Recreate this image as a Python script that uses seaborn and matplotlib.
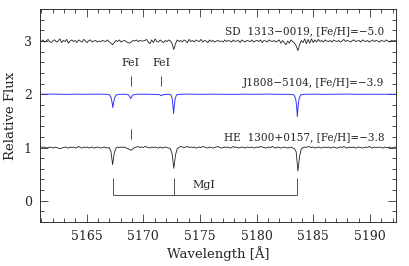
import numpy as np
import pandas as pd
import seaborn as sns
import matplotlib.pyplot as plt
from matplotlib.ticker import MultipleLocator

# wavelength grid of the two black spectra (0.15 A steps)
wave = np.linspace(5160.85, 5192.35, 211)

# SD 1313-0019, [Fe/H]=-5.0 (offset +2)
sd_flux = [
    3.01, 2.99, 3.02, 2.98, 3.00, 3.03, 2.99, 2.97, 3.01, 3.02,
    2.98, 3.00, 3.04, 2.97, 3.01, 2.99, 3.03, 2.96, 3.00, 3.02,
    2.99, 3.01, 2.97, 3.02, 3.00, 2.98, 3.03, 3.00, 2.97, 3.01,
    3.02, 2.98, 3.00, 3.01, 2.98, 3.00, 2.99, 3.01, 3.00, 2.99,
    3.02, 2.98, 2.96, 2.93, 2.97, 3.01, 2.99, 3.02, 2.98, 3.00,
    3.01, 2.99, 2.97, 2.96, 2.98, 3.01, 3.00, 3.02, 2.99, 3.01,
    3.00, 3.00, 3.01, 3.03, 2.98, 2.95, 3.02, 2.97, 3.04, 2.99,
    2.98, 3.02, 2.99, 2.97, 3.01, 2.99, 3.02, 3.00, 2.95, 2.84,
    2.95, 3.02, 2.99, 3.01, 2.98, 3.02, 3.00, 2.97, 3.03, 2.99,
    3.01, 2.98, 3.02, 3.00, 2.99, 3.03, 2.98, 3.01, 3.00, 2.97,
    3.02, 2.99, 3.01, 2.98, 3.00, 3.01, 2.99, 3.00, 2.98, 3.02,
    2.99, 3.01, 3.00, 2.98, 3.02, 2.99, 3.00, 3.01, 2.97, 3.02,
    3.00, 2.98, 3.01, 3.00, 2.99, 3.02, 2.98, 3.00, 3.01, 2.99,
    3.02, 2.97, 3.01, 3.00, 2.98, 3.02, 3.00, 2.99, 3.01, 2.98,
    3.00, 3.02, 2.96, 3.01, 2.97, 2.93, 3.00, 2.96, 3.02, 2.99,
    2.96, 2.91, 2.82, 2.93, 3.01, 2.97, 3.04, 2.95, 3.03, 2.96,
    3.04, 2.97, 3.02, 2.98, 3.03, 2.99, 3.01, 2.98, 3.02, 3.00,
    2.99, 3.01, 2.98, 3.02, 3.00, 2.99, 3.01, 2.98, 3.00, 3.03,
    2.99, 3.01, 3.00, 2.98, 3.01, 3.02, 2.99, 3.00, 3.01, 2.98,
    3.02, 3.00, 2.99, 3.01, 2.98, 3.00, 3.02, 2.99, 3.01, 3.00,
    2.98, 3.01, 3.00, 2.99, 3.02, 3.00, 2.98, 3.01, 3.00, 3.01, 2.99,
]

# HE 1300+0157, [Fe/H]=-3.8
he_flux = [
    1.02, 1.01, 1.00, 1.01, 0.99, 1.00, 1.01, 1.00, 0.99, 1.01,
    1.00, 0.99, 0.98, 0.99, 1.00, 1.01, 1.00, 0.99, 1.01, 1.00,
    1.01, 0.99, 1.00, 1.02, 1.00, 0.99, 1.01, 1.00, 1.01, 0.99,
    1.00, 1.01, 0.99, 1.00, 1.01, 1.00, 0.99, 1.00, 1.01, 1.00,
    0.99, 1.00, 0.93, 0.68, 0.90, 0.99, 1.01, 1.00, 1.01, 1.00,
    1.01, 0.99, 0.98, 0.96, 0.95, 0.98, 1.00, 1.01, 1.02, 1.00,
    1.01, 1.00, 1.02, 1.01, 1.00, 0.99, 1.01, 1.00, 1.01, 1.00,
    0.99, 1.01, 0.99, 1.00, 1.01, 1.00, 0.99, 0.98, 0.88, 0.61,
    0.86, 0.98, 1.00, 1.02, 1.01, 1.00, 1.01, 1.02, 1.00, 1.01,
    1.00, 1.01, 0.99, 1.00, 1.01, 1.00, 1.02, 1.01, 1.00, 0.99,
    1.01, 1.00, 0.99, 1.00, 1.01, 1.02, 1.00, 0.99, 1.00, 1.01,
    1.00, 1.01, 0.99, 1.00, 1.02, 1.00, 1.01, 0.99, 1.00, 1.01,
    1.00, 0.99, 1.01, 1.00, 1.00, 1.01, 0.99, 1.00, 1.01, 1.00,
    1.02, 1.01, 1.00, 0.99, 1.00, 1.01, 1.00, 1.02, 1.00, 0.99,
    1.01, 1.00, 0.99, 1.00, 1.01, 1.00, 0.99, 1.00, 1.01, 0.99,
    0.98, 0.92, 0.56, 0.84, 0.97, 1.00, 1.01, 1.00, 1.02, 1.01,
    1.00, 1.01, 0.99, 1.00, 1.01, 1.00, 0.99, 1.01, 1.00, 1.00,
    1.01, 0.99, 1.00, 1.01, 1.00, 0.99, 1.00, 1.01, 1.00, 1.02,
    1.00, 0.99, 1.01, 1.00, 1.00, 1.01, 0.99, 1.00, 1.01, 1.00,
    0.99, 1.00, 1.01, 1.00, 1.02, 1.00, 0.99, 1.01, 1.00, 1.00,
    1.01, 1.00, 0.99, 1.01, 1.00, 1.00, 1.01, 0.99, 1.00, 1.01, 1.00,
]

# J1808-5104, [Fe/H]=-3.9 (offset +1), high S/N so sampled sparsely in continuum
j_wave = [
    5160.9, 5162.0, 5163.0, 5164.0, 5165.0, 5166.0, 5166.8, 5167.0, 5167.15,
    5167.25, 5167.32, 5167.4, 5167.5, 5167.65, 5167.9, 5168.4, 5168.7, 5168.82,
    5168.9, 5168.98, 5169.1, 5169.4, 5170.0, 5170.8, 5171.4, 5171.6, 5171.8,
    5172.2, 5172.45, 5172.55, 5172.62, 5172.68, 5172.75, 5172.83, 5172.95,
    5173.3, 5174.0, 5175.0, 5176.0, 5177.0, 5178.0, 5179.0, 5180.0, 5181.0,
    5182.0, 5182.8, 5183.3, 5183.45, 5183.54, 5183.6, 5183.67, 5183.76,
    5183.9, 5184.3, 5185.0, 5186.0, 5187.0, 5188.0, 5189.0, 5190.0, 5191.0,
    5192.3,
]
j_flux = [
    2.000, 2.003, 1.998, 2.002, 2.000, 2.003, 1.998, 1.990, 1.950,
    1.850, 1.750, 1.860, 1.950, 1.990, 2.000, 2.000, 1.990, 1.950,
    1.920, 1.950, 1.990, 2.000, 2.002, 1.998, 1.995, 1.975, 1.995,
    1.998, 1.990, 1.930, 1.800, 1.640, 1.800, 1.930, 1.990,
    2.000, 2.003, 1.999, 2.002, 2.000, 1.998, 2.002, 2.000, 2.003,
    1.999, 2.000, 1.990, 1.920, 1.780, 1.580, 1.780, 1.920,
    1.990, 2.000, 2.002, 1.999, 2.001, 2.003, 1.999, 2.001, 2.000,
    2.000,
]

fe_lines = [5168.9, 5171.6]
mg_lines = [5167.32, 5172.68, 5183.60]

sns.set_style('ticks')
plt.rcParams['font.family'] = ['DejaVu Serif']

fig = plt.figure(figsize=(4.09, 2.66), dpi=100)
ax = fig.add_axes([0.098, 0.165, 0.870, 0.801])

black = pd.DataFrame({'wave': np.concatenate([wave, wave]),
                      'flux': sd_flux + he_flux,
                      'star': ['SD'] * len(wave) + ['HE'] * len(wave)})
sns.lineplot(data=black, x='wave', y='flux', units='star', estimator=None,
             color='#222222', lw=0.6, ax=ax, sort=False)
sns.lineplot(x=j_wave, y=j_flux, color='#3333ff', lw=0.7, ax=ax, sort=False)

# line identifications
ax.vlines(fe_lines, 2.16, 2.34, color='#333333', lw=0.6)
ax.vlines(fe_lines[0], 1.16, 1.35, color='#333333', lw=0.6)
for w in fe_lines:
    ax.text(w, 2.58, 'FeI', ha='center', va='center', fontsize=8)
ax.vlines(mg_lines, 0.11, 0.42, color='#333333', lw=0.6)
ax.hlines(0.11, mg_lines[0], mg_lines[-1], color='#333333', lw=0.6)
ax.text(5175.4, 0.30, 'MgI', ha='center', va='center', fontsize=8)

ax.text(5191.3, 3.18, 'SD  1313\u22120019, [Fe/H]=\u22125.0', ha='right', va='center', fontsize=7.6)
ax.text(5191.3, 2.22, 'J1808\u22125104, [Fe/H]=\u22123.9', ha='right', va='center', fontsize=7.6)
ax.text(5191.3, 1.20, 'HE  1300+0157, [Fe/H]=\u22123.8', ha='right', va='center', fontsize=7.6)

ax.set_xlim(5160.9, 5192.3)
ax.set_ylim(-0.4, 3.6)
ax.xaxis.set_major_locator(MultipleLocator(5))
ax.xaxis.set_minor_locator(MultipleLocator(1))
ax.yaxis.set_major_locator(MultipleLocator(1))
ax.yaxis.set_minor_locator(MultipleLocator(0.2))
ax.tick_params(which='both', direction='in', top=True, right=True, width=0.6,
               color='#333333', labelsize=9, pad=6)
ax.tick_params(which='major', length=6)
ax.tick_params(which='minor', length=3)
for s in ax.spines.values():
    s.set_linewidth(0.7)
    s.set_color('#333333')

ax.set_xlabel('Wavelength [Å]', fontsize=9.5, labelpad=2)
ax.set_ylabel('Relative Flux', fontsize=9.5, labelpad=5)

fig.savefig('out.png', dpi=100)
